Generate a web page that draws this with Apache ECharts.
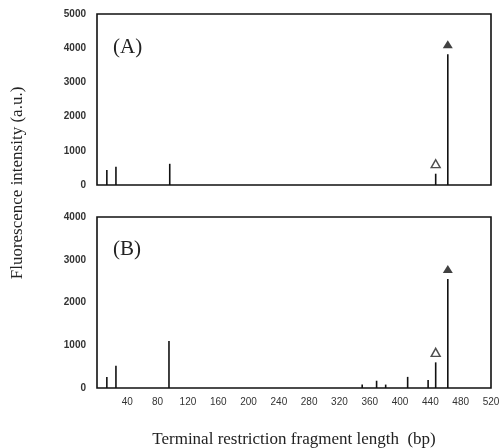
<!DOCTYPE html>
<html>
<head>
<meta charset="utf-8">
<script src="https://cdn.jsdelivr.net/npm/echarts@6/dist/echarts.min.js"></script>
<style>
  html, body { margin: 0; padding: 0; background: #fff; }
  #chart { width: 499px; height: 448px; }
</style>
</head>
<body>
<div id="chart"></div>
<script>
// peak positions (bp) and heights (a.u.)
var peaksA_x = [13, 25, 96, 447, 463];
var peaksA_y = [440, 530, 620, 330, 3820];
var peaksB_x = [13, 25, 95, 350, 369, 381, 410, 437, 447, 463];
var peaksB_y = [260, 520, 1100, 80, 170, 80, 260, 190, 600, 2550];
// marked peaks: filled triangle = main, hollow = minor
var markA_filled = [[463, 3820]];
var markA_hollow = [[447, 330]];
var markB_filled = [[463, 2550]];
var markB_hollow = [[447, 600]];
var xTicks = [40, 80, 120, 160, 200, 240, 280, 320, 360, 400, 440, 480, 520];

function pairs(xs, ys) {
  return xs.map(function (x, i) { return [x, ys[i]]; });
}

var chart = echarts.init(document.getElementById('chart'));
var serif = '"Liberation Serif", "DejaVu Serif", serif';
var sans = '"Liberation Sans", Arial, sans-serif';

var yLabel = { fontFamily: sans, fontSize: 10, color: '#333', margin: 11, fontWeight: 'bold',
  formatter: function (v) { return String(v); } };

var option = {
  animation: false,
  backgroundColor: '#fff',
  title: [
    { text: '(A)', left: 108, top: 32, textStyle: { fontFamily: serif, fontSize: 21, fontWeight: 'normal', color: '#222' } },
    { text: '(B)', left: 108, top: 234, textStyle: { fontFamily: serif, fontSize: 21, fontWeight: 'normal', color: '#222' } }
  ],
  grid: [
    { left: 97, right: 8, top: 14, bottom: 263, show: true, borderColor: '#111', borderWidth: 1.6,
      backgroundColor: 'transparent', containLabel: false, outerBoundsMode: 'none' },
    { left: 97, right: 8, top: 217, bottom: 60, show: true, borderColor: '#111', borderWidth: 1.6,
      backgroundColor: 'transparent', containLabel: false, outerBoundsMode: 'none' }
  ],
  xAxis: [
    { gridIndex: 0, type: 'value', min: 0, max: 520, interval: 40,
      axisLine: { show: false }, axisTick: { show: false }, axisLabel: { show: false }, splitLine: { show: false } },
    { gridIndex: 1, type: 'value', min: 0, max: 520, interval: 40,
      axisLine: { show: false }, axisTick: { show: false }, splitLine: { show: false },
      axisLabel: { fontFamily: sans, fontSize: 10, color: '#333', margin: 9,
        formatter: function (v) { return xTicks.indexOf(v) >= 0 ? String(v) : ''; } },
      name: 'Terminal restriction fragment length  (bp)', nameLocation: 'middle', nameGap: 43,
      nameTextStyle: { fontFamily: serif, fontSize: 17, color: '#222' } }
  ],
  yAxis: [
    { gridIndex: 0, type: 'value', min: 0, max: 5000, interval: 1000,
      axisLine: { show: false }, axisTick: { show: false }, splitLine: { show: false }, axisLabel: yLabel },
    { gridIndex: 1, type: 'value', min: 0, max: 4000, interval: 1000,
      axisLine: { show: false }, axisTick: { show: false }, splitLine: { show: false }, axisLabel: yLabel }
  ],
  graphic: [
    { type: 'text', x: 18, y: 183, rotation: Math.PI / 2,
      style: { text: 'Fluorescence intensity (a.u.)', font: '17px ' + serif, fill: '#222',
        textAlign: 'center', textVerticalAlign: 'middle' } }
  ],
  series: [
    { type: 'bar', xAxisIndex: 0, yAxisIndex: 0, barWidth: 1.6, itemStyle: { color: '#111' }, data: pairs(peaksA_x, peaksA_y) },
    { type: 'bar', xAxisIndex: 1, yAxisIndex: 1, barWidth: 1.6, itemStyle: { color: '#111' }, data: pairs(peaksB_x, peaksB_y) },
    { type: 'scatter', xAxisIndex: 0, yAxisIndex: 0, symbol: 'triangle', symbolSize: [10, 8], symbolOffset: [0, -10],
      itemStyle: { color: '#111' }, data: markA_filled },
    { type: 'scatter', xAxisIndex: 0, yAxisIndex: 0, symbol: 'triangle', symbolSize: [9, 8], symbolOffset: [0, -10],
      itemStyle: { color: '#fff', borderColor: '#222', borderWidth: 1.4 }, data: markA_hollow },
    { type: 'scatter', xAxisIndex: 1, yAxisIndex: 1, symbol: 'triangle', symbolSize: [10, 8], symbolOffset: [0, -10],
      itemStyle: { color: '#111' }, data: markB_filled },
    { type: 'scatter', xAxisIndex: 1, yAxisIndex: 1, symbol: 'triangle', symbolSize: [9, 8], symbolOffset: [0, -10],
      itemStyle: { color: '#fff', borderColor: '#222', borderWidth: 1.4 }, data: markB_hollow }
  ]
};
chart.setOption(option);
</script>
</body>
</html>
